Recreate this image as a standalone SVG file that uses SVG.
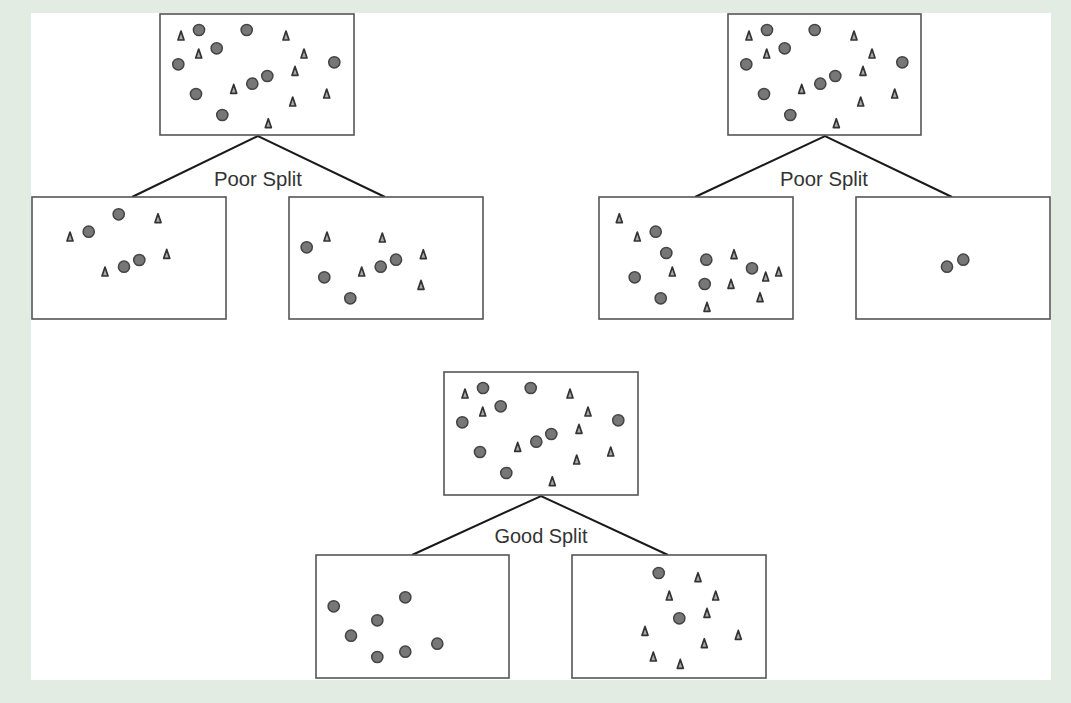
<svg xmlns="http://www.w3.org/2000/svg" xmlns:xlink="http://www.w3.org/1999/xlink" width="1071" height="703" viewBox="0 0 1071 703">
<style>
.box{fill:#fff;stroke:#555;stroke-width:1.6}
.dot{fill:#777;stroke:#444;stroke-width:1.5}
.tri{fill:#aaa;stroke:#333;stroke-width:1.7;stroke-linejoin:round}
.edge{stroke:#1a1a1a;stroke-width:2;fill:none}
.lbl{font-family:"Liberation Sans",Arial,sans-serif;font-size:21px;fill:#333;text-anchor:middle}
</style>
<defs>
<circle id="c" class="dot" r="5.6"/>
<polygon id="t" class="tri" points="0,-4.6 3,4.3 -3,4.3"/>
<g id="full">
<use href="#c" x="199" y="30"/><use href="#c" x="246.7" y="30"/><use href="#c" x="216.7" y="48.3"/><use href="#c" x="178.3" y="64.3"/><use href="#c" x="334.3" y="62.3"/><use href="#c" x="267.3" y="76"/><use href="#c" x="252.3" y="83.7"/><use href="#c" x="196" y="94"/><use href="#c" x="222.3" y="115"/>
<use href="#t" x="181" y="35.7"/><use href="#t" x="286" y="35.7"/><use href="#t" x="198.7" y="53.7"/><use href="#t" x="304" y="53.7"/><use href="#t" x="295" y="71"/><use href="#t" x="233.7" y="89"/><use href="#t" x="326.7" y="93.7"/><use href="#t" x="292.7" y="101.7"/><use href="#t" x="268.3" y="123.3"/>
</g>
</defs>
<rect x="0" y="0" width="1071" height="703" fill="#e2ece3"/>
<rect x="31" y="13" width="1020" height="667" fill="#fff"/>

<g id="connectors">
<polyline class="edge" points="132,197 258,136 385,197"/>
<polyline class="edge" points="695,197 825,136 952,197"/>
<polyline class="edge" points="412,555 541,496 668,555"/>
</g>

<g id="tree1-parent">
<rect class="box" x="160" y="14" width="194" height="121"/>
<use href="#full"/>
</g>
<g id="tree1-left">
<rect class="box" x="32" y="197" width="194" height="122"/>
<use href="#c" x="118.7" y="214.3"/><use href="#c" x="88.7" y="231.7"/><use href="#c" x="139.3" y="260"/><use href="#c" x="124" y="266.7"/>
<use href="#t" x="158" y="218.3"/><use href="#t" x="70" y="236.7"/><use href="#t" x="166.7" y="254"/><use href="#t" x="105" y="271.7"/>
</g>
<g id="tree1-right">
<rect class="box" x="289" y="197" width="194" height="122"/>
<use href="#c" x="306.7" y="247.3"/><use href="#c" x="324.3" y="277.3"/><use href="#c" x="396" y="259.7"/><use href="#c" x="380.7" y="266.7"/><use href="#c" x="350.3" y="298.3"/>
<use href="#t" x="327" y="236.7"/><use href="#t" x="382.3" y="237.7"/><use href="#t" x="423.3" y="254.3"/><use href="#t" x="361.7" y="271.7"/><use href="#t" x="421" y="285"/>
</g>
<g id="tree1-label"><text class="lbl" x="258" y="186" textLength="88" lengthAdjust="spacingAndGlyphs">Poor Split</text></g>

<g id="tree2-parent">
<rect class="box" x="728" y="14" width="193" height="121"/>
<use href="#full" transform="translate(568,0)"/>
</g>
<g id="tree2-left">
<rect class="box" x="599" y="197" width="194" height="122"/>
<use href="#c" x="655.7" y="231.7"/><use href="#c" x="666.3" y="253"/><use href="#c" x="706.3" y="259.7"/><use href="#c" x="634.7" y="277.3"/><use href="#c" x="752" y="268.3"/><use href="#c" x="704.7" y="284"/><use href="#c" x="660.7" y="298.3"/>
<use href="#t" x="619.3" y="218.3"/><use href="#t" x="637.3" y="236.7"/><use href="#t" x="734" y="254.3"/><use href="#t" x="672.3" y="271.7"/><use href="#t" x="765.7" y="276.7"/><use href="#t" x="778.7" y="271.7"/><use href="#t" x="731" y="284"/><use href="#t" x="760" y="297.3"/><use href="#t" x="707" y="307"/>
</g>
<g id="tree2-right">
<rect class="box" x="856" y="197" width="194" height="122"/>
<use href="#c" x="963.3" y="259.7"/><use href="#c" x="947" y="266.7"/>
</g>
<g id="tree2-label"><text class="lbl" x="824" y="186" textLength="88" lengthAdjust="spacingAndGlyphs">Poor Split</text></g>

<g id="tree3-parent">
<rect class="box" x="444" y="372" width="194" height="123"/>
<use href="#full" transform="translate(284,358)"/>
</g>
<g id="tree3-left">
<rect class="box" x="316" y="555" width="193" height="123"/>
<use href="#c" x="405.3" y="597.3"/><use href="#c" x="333.7" y="606.3"/><use href="#c" x="377.3" y="620.3"/><use href="#c" x="351" y="635.7"/><use href="#c" x="437.3" y="643.7"/><use href="#c" x="405.3" y="651.7"/><use href="#c" x="377.3" y="657"/>
</g>
<g id="tree3-right">
<rect class="box" x="572" y="555" width="194" height="123"/>
<use href="#c" x="658.7" y="573"/><use href="#c" x="679.3" y="618.3"/>
<use href="#t" x="698" y="577.3"/><use href="#t" x="669.3" y="595.7"/><use href="#t" x="715.7" y="595.7"/><use href="#t" x="707" y="613"/><use href="#t" x="645" y="631"/><use href="#t" x="738.3" y="635"/><use href="#t" x="704.3" y="643.3"/><use href="#t" x="653.3" y="656.7"/><use href="#t" x="680.3" y="664"/>
</g>
<g id="tree3-label"><text class="lbl" x="541" y="543" textLength="93" lengthAdjust="spacingAndGlyphs">Good Split</text></g>
</svg>
